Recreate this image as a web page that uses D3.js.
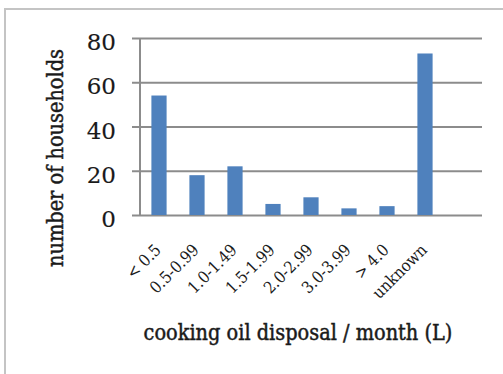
<!DOCTYPE html>
<html>
<head>
<meta charset="utf-8">
<script src="https://cdn.jsdelivr.net/npm/d3@7"></script>
<style>
  html, body { margin: 0; padding: 0; background: #fff; }
  svg { display: block; }
  text { font-family: "DejaVu Serif", serif; fill: #1a1a1a; }
  .cond { font-stretch: condensed; }
  .heavy { stroke: #1a1a1a; stroke-width: 0.45px; }
  .num { stroke: #1a1a1a; stroke-width: 0.15px; }
</style>
</head>
<body>
<svg id="chart" width="503" height="374"></svg>
<script>
// Households by monthly cooking-oil disposal volume
const categories = ["< 0.5", "0.5-0.99", "1.0-1.49", "1.5-1.99", "2.0-2.99", "3.0-3.99", "> 4.0", "unknown"];
const households = [54, 18, 22, 5, 8, 3, 4, 73];
const yTicks = [0, 20, 40, 60, 80];

const svg = d3.select("#chart");

// outer chart frame (runs past the right and bottom edges)
svg.append("rect")
  .attr("x", 5).attr("y", 9)
  .attr("width", 600).attr("height", 500)
  .attr("fill", "none")
  .attr("stroke", "#c4c4c4")
  .attr("stroke-width", 2);

const plot = { left: 140, right: 482, top: 38, bottom: 215 };
const step = (plot.right - plot.left) / 9;   // one empty slot after the last category

const x = d3.scaleBand()
  .domain(categories)
  .range([plot.left, plot.left + step * categories.length])
  .paddingInner(0.6)
  .paddingOuter(0.3);

const y = d3.scaleLinear()
  .domain([0, 80])
  .range([plot.bottom, plot.top]);

// horizontal gridlines with left tick stubs
const yAxis = d3.axisLeft(y)
  .tickValues(yTicks)
  .tickSize(-(plot.right - plot.left))
  .tickFormat("");
const gy = svg.append("g")
  .attr("transform", `translate(${plot.left},0)`)
  .call(yAxis);
gy.select(".domain").remove();
gy.selectAll(".tick line")
  .attr("x1", -8)
  .attr("stroke", "#8c8c8c")
  .attr("stroke-width", 2);

// vertical axis line
svg.append("line")
  .attr("x1", plot.left).attr("x2", plot.left)
  .attr("y1", plot.top).attr("y2", plot.bottom + 1)
  .attr("stroke", "#8c8c8c")
  .attr("stroke-width", 2);

// y tick labels
svg.append("g").selectAll("text")
  .data(yTicks)
  .join("text")
  .attr("class", "num")
  .attr("x", 116)
  .attr("y", d => y(d) + 12)
  .attr("text-anchor", "end")
  .style("font-size", "23px")
  .text(d => d);

// bars
svg.append("g").selectAll("rect")
  .data(households)
  .join("rect")
  .attr("x", (d, i) => x(categories[i]))
  .attr("width", x.bandwidth())
  .attr("y", d => y(d))
  .attr("height", d => y(0) - y(d))
  .attr("fill", "#4f81bd");

// rotated category labels
svg.append("g").selectAll("text")
  .data(categories)
  .join("text")
  .attr("class", "cond")
  .attr("text-anchor", "end")
  .attr("transform", d => `translate(${x(d) + x.bandwidth() / 2 + 3},251) rotate(-45)`)
  .style("font-size", "16.5px")
  .text(d => d);

// axis titles
svg.append("text")
  .attr("class", "cond heavy")
  .attr("text-anchor", "middle")
  .attr("transform", "translate(63,158) rotate(-90)")
  .style("font-size", "21.5px")
  .text("number of households");

svg.append("text")
  .attr("class", "cond heavy")
  .attr("x", 298).attr("y", 340)
  .attr("text-anchor", "middle")
  .style("font-size", "21.5px")
  .text("cooking oil disposal / month (L)");
</script>
</body>
</html>
